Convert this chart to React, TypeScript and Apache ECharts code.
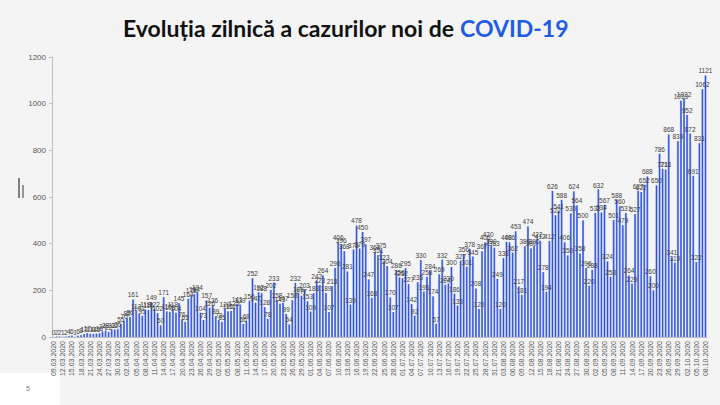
import React, { useEffect, useRef } from "react";
import * as echarts from "echarts";

const startDate = "2020-03-09";
const dayCount = 214;

const march = [0, 2, 2, 1, 2, 4, 6, 1, 6, 8, 13, 17, 14, 14, 15, 16, 24, 28, 22, 32, 32, 35, 55];
const april = [70, 82, 86, 161, 112, 101, 91, 118, 116, 149, 122, 102, 50, 171, 110, 108, 118, 104, 145, 76, 65, 164, 178, 184, 194, 104, 73, 157, 126, 136];
const may = [89, 73, 65, 120, 110, 112, 125, 141, 139, 56, 68, 156, 252, 147, 192, 188, 128, 78, 202, 233, 158, 143, 147, 99, 54, 158, 232, 186, 177, 203, 153];
const june = [109, 188, 242, 223, 264, 189, 107, 218, 296, 406, 396, 368, 281, 139, 375, 478, 379, 450, 397, 247, 168, 364, 351, 375, 323, 304, 170, 107, 286, 256];
const july = [252, 295, 227, 142, 92, 235, 330, 195, 258, 284, 174, 57, 269, 332, 224, 230, 300, 186, 135, 327, 356, 301, 378, 345, 208, 120, 367, 406, 420, 390, 383];
const august = [249, 120, 338, 408, 406, 362, 453, 217, 181, 389, 474, 380, 390, 422, 412, 278, 194, 412, 626, 522, 541, 588, 406, 350, 530, 624, 564, 358, 500, 296, 220];
const september = [288, 532, 632, 534, 567, 324, 258, 501, 588, 560, 479, 531, 264, 229, 527, 627, 622, 652, 688, 260, 200, 650, 786, 721, 718, 868, 341, 319, 839, 1013];
const october = [1022, 952, 872, 691, 322, 831, 1062, 1121];

const yTicks = { min: 0, max: 1200, interval: 200 };

function buildDates(start: string, n: number): string[] {
  const out: string[] = [];
  const d0 = new Date(start + "T00:00:00Z").getTime();
  for (let i = 0; i < n; i++) {
    const d = new Date(d0 + i * 86400000);
    const dd = String(d.getUTCDate()).padStart(2, "0");
    const mm = String(d.getUTCMonth() + 1).padStart(2, "0");
    out.push(`${dd}.${mm}.${d.getUTCFullYear()}`);
  }
  return out;
}

export default function App() {
  const ref = useRef<HTMLDivElement>(null);
  useEffect(() => {
    if (!ref.current) return;
    const chart = echarts.init(ref.current, undefined, { renderer: "svg" });
    const dates = buildDates(startDate, dayCount);
    const values = [...march, ...april, ...may, ...june, ...july, ...august, ...september, ...october];
    const barColor = new echarts.graphic.LinearGradient(0, 0, 1, 0, [
      { offset: 0, color: "#8ea2f0" },
      { offset: 0.5, color: "#2c4fd8" },
      { offset: 1, color: "#8ea2f0" },
    ]);
    chart.setOption({
      animation: false,
      backgroundColor: "#f4f4f4",
      textStyle: { fontFamily: "Liberation Sans" },
      title: {
        text: "{a|Evoluția zilnică a cazurilor noi de }{b|COVID-19}",
        left: 118,
        top: 11,
        textStyle: {
          rich: {
            a: { fontFamily: "Lato", fontWeight: "bold", fontSize: 23, color: "#111111" },
            b: { fontFamily: "Lato", fontWeight: "bold", fontSize: 23, color: "#1f5ce6" },
          },
        },
      },
      grid: { left: 52, right: 13, top: 57, bottom: 68 },
      xAxis: {
        type: "category",
        data: dates,
        axisLine: { lineStyle: { color: "#bfbfbf" } },
        axisTick: { interval: 2, lineStyle: { color: "#bfbfbf" } },
        axisLabel: { interval: 2, rotate: 90, fontSize: 7, color: "#595959", margin: 4 },
      },
      yAxis: {
        type: "value",
        min: yTicks.min,
        max: yTicks.max,
        interval: yTicks.interval,
        axisLine: { show: true, lineStyle: { color: "#bfbfbf" } },
        axisTick: { show: true, length: 3, lineStyle: { color: "#bfbfbf" } },
        splitLine: { show: false },
        axisLabel: { fontSize: 8, color: "#595959", margin: 6, formatter: (v: number) => String(v) },
      },
      series: [
        {
          type: "bar",
          data: values,
          barCategoryGap: "30%",
          itemStyle: { color: barColor },
          label: { show: true, position: "top", fontSize: 6.5, color: "#404040", distance: 1 },
        },
      ],
      graphic: [
        { type: "rect", shape: { x: 0, y: 373, width: 60, height: 32 }, style: { fill: "#ffffff" } },
        { type: "text", style: { x: 28, y: 388, text: "5", fontSize: 7, fill: "#7f7f7f", fontFamily: "Liberation Sans", textAlign: "center", textVerticalAlign: "middle" } },
        { type: "line", shape: { x1: 19, y1: 178, x2: 19, y2: 198 }, style: { stroke: "#333333", lineWidth: 1.2 } },
        { type: "line", shape: { x1: 23, y1: 185, x2: 23, y2: 198 }, style: { stroke: "#555555", lineWidth: 1.2 } },
      ],
    });
    return () => chart.dispose();
  }, []);
  return <div ref={ref} style={{ position: "fixed", left: 0, top: 0, width: 720, height: 405 }} />;
}
